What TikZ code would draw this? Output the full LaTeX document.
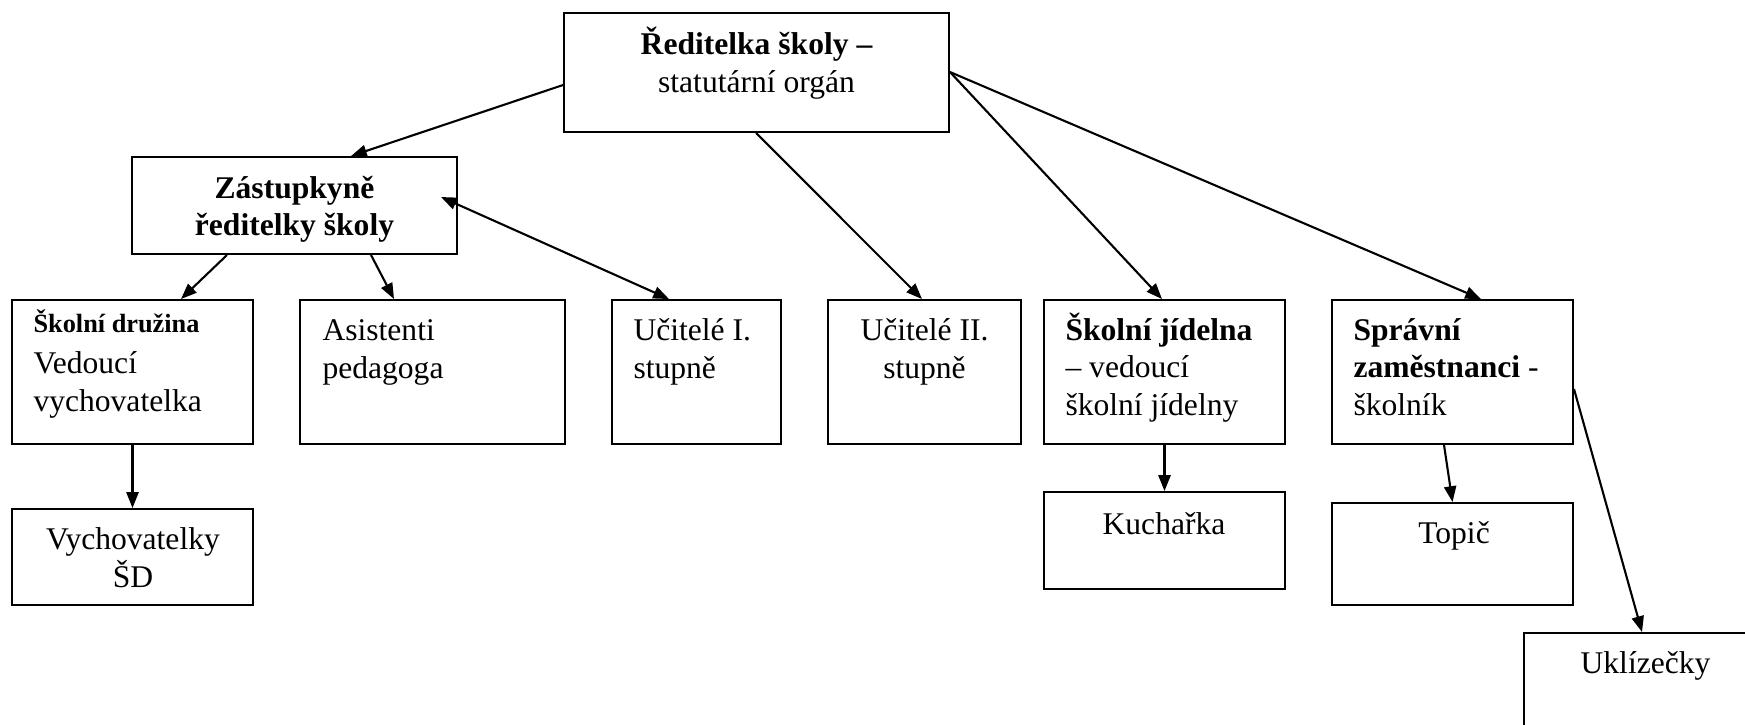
\documentclass[tikz,border=0pt]{standalone}
\usepackage{fontspec}
\setmainfont{Liberation Serif}
\usetikzlibrary{arrows.meta,calc,fit}
\begin{document}
\begin{tikzpicture}[x=0.38pt,y=-0.38pt,
  box/.style={draw, line width=0.75pt, inner sep=0pt, rectangle},
  txt/.style={inner sep=0pt, font=\fontsize{12}{14.2}\selectfont},
  conn/.style={line width=0.8pt, -{Triangle[length=6pt,width=4.6pt]}},
  conntwo/.style={line width=0.8pt, {Triangle[length=6pt,width=4.6pt]}-{Triangle[length=6pt,width=4.6pt]}},
]
\useasboundingbox (0,0) rectangle (1745,724);
\clip (0,0) rectangle (1745,724);
% boxes
\node[box, fit={(564,13) (949,132)}] (dir) {};
\node[box, fit={(132,157) (457,254)}] (zast) {};
\node[box, fit={(12,300) (253,444)}] (druz) {};
\node[box, fit={(300,300) (565,444)}] (asis) {};
\node[box, fit={(612,300) (781,444)}] (uc1) {};
\node[box, fit={(828,300) (1021,444)}] (uc2) {};
\node[box, fit={(1044,300) (1285,444)}] (jid) {};
\node[box, fit={(1332,300) (1573,444)}] (spr) {};
\node[box, fit={(12,509) (253,605)}] (vych) {};
\node[box, fit={(1044,492) (1285,589)}] (kuch) {};
\node[box, fit={(1332,503) (1573,605)}] (topic) {};
\node[box, fit={(1524,633) (1768,745)}] (ukl) {};
% texts (base anchor = baseline of the last line)
\node[txt, anchor=base, align=center] at (756.5,92) {{\bfseries Ředitelka školy –}\\statutární orgán};
\node[txt, anchor=base, align=center, font=\fontsize{12}{14}\selectfont\bfseries] at (294.5,235) {Zástupkyně\\ředitelky školy};
\node[txt, anchor=base west, align=left] at (33,411) {{\fontsize{10}{12}\selectfont\bfseries Školní družina}\\[1.5pt]Vedoucí\\vychovatelka};
\node[txt, anchor=base west, align=left] at (322,378) {Asistenti\\pedagoga};
\node[txt, anchor=base west, align=left] at (633,378) {Učitelé I.\\stupně};
\node[txt, anchor=base, align=center] at (924.5,378) {Učitelé II.\\stupně};
\node[txt, anchor=base west, align=left] at (1065,415) {{\bfseries Školní jídelna}\\– vedoucí\\školní jídelny};
\node[txt, anchor=base west, align=left] at (1353,415) {{\bfseries Správní}\\{\bfseries zaměstnanci} -\\školník};
\node[txt, anchor=base, align=center] at (133,587) {Vychovatelky\\ŠD};
\node[txt, anchor=base] at (1164,534) {Kuchařka};
\node[txt, anchor=base] at (1454,543) {Topič};
\node[txt, anchor=base] at (1645.5,673) {Uklízečky};
% connectors
\draw[conn] ($(dir.north west)+(0,73)$) -- ($(zast.north west)+(220,0)$);
\draw[conn] ($(zast.south west)+(96,0)$) -- ($(druz.north west)+(170,0)$);
\draw[conn] ($(zast.south west)+(240,0)$) -- ($(asis.north west)+(95,0)$);
\draw[conntwo] ($(uc1.north west)+(58,0)$) -- ($(zast.north west)+(310,41)$);
\draw[conn] ($(dir.south west)+(193,0)$) -- ($(uc2.north west)+(95,0)$);
\draw[conn] ($(dir.north east)+(0,60)$) -- ($(jid.north west)+(119,0)$);
\draw[conn] ($(dir.north east)+(0,60)$) -- ($(spr.north west)+(150,0)$);
\draw[conn] (druz.south) -- (vych.north);
\draw[conn] (jid.south) -- (kuch.north);
\draw[conn] ($(spr.south west)+(113,0)$) -- (topic.north);
\draw[conn] ($(spr.north east)+(0,90)$) -- ($(ukl.north west)+(119,0)$);
\end{tikzpicture}
\end{document}
